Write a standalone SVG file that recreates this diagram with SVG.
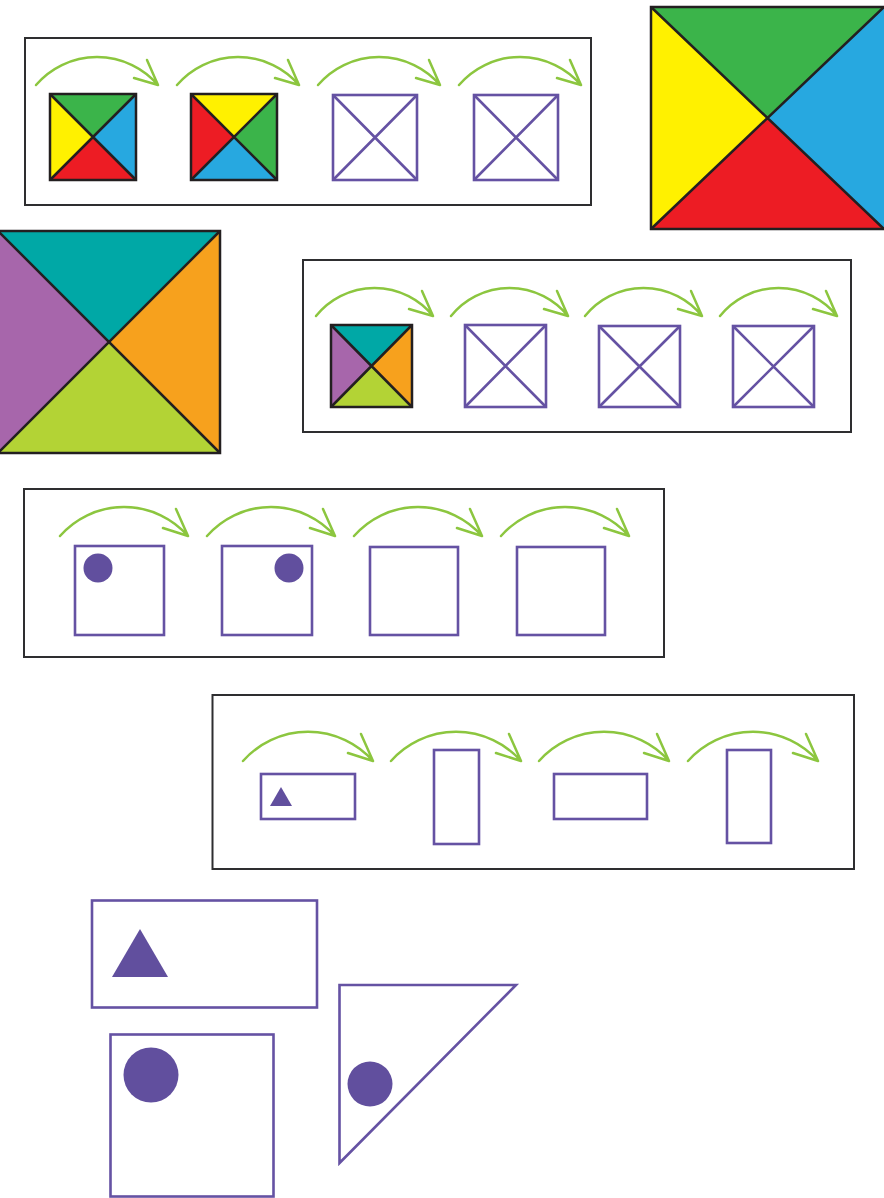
<svg xmlns="http://www.w3.org/2000/svg" width="884" height="1198" viewBox="0 0 884 1198">
<style>
.panel{fill:#fff;stroke:#2e2e30;stroke-width:2}
.arc{fill:none;stroke:#8cc63f;stroke-width:2.5;stroke-linecap:round;stroke-linejoin:round}
.blk{fill:none;stroke:#231f20;stroke-width:2.5}
.pu{fill:none;stroke:#6552a3;stroke-width:2.6}
.pf{fill:#614f9e}
</style>
<rect width="884" height="1198" fill="#fff"/>
<g id="panel1">
<rect class="panel" x="25" y="38" width="566" height="167"/>
<g id="p1sq1">
<polygon points="50,94 136,94 93,137" fill="#3bb44a"/><polygon points="136,94 136,180 93,137" fill="#27a8e0"/><polygon points="136,180 50,180 93,137" fill="#ed1c24"/><polygon points="50,180 50,94 93,137" fill="#fff100"/>
<rect class="blk" x="50" y="94" width="86" height="86"/><path class="blk" d="M50,94L136,180M136,94L50,180"/>
</g>
<g id="p1sq2">
<polygon points="191,94 277,94 234,137" fill="#fff100"/><polygon points="277,94 277,180 234,137" fill="#3bb44a"/><polygon points="277,180 191,180 234,137" fill="#27a8e0"/><polygon points="191,180 191,94 234,137" fill="#ed1c24"/>
<rect class="blk" x="191" y="94" width="86" height="86"/><path class="blk" d="M191,94L277,180M277,94L191,180"/>
</g>
<g id="p1sq3"><rect class="pu" x="333" y="95" width="84" height="85"/><path class="pu" d="M333,95L417,180M417,95L333,180"/></g>
<g id="p1sq4"><rect class="pu" x="474" y="95" width="84" height="85"/><path class="pu" d="M474,95L558,180M558,95L474,180"/></g>
</g>
<g id="bigsq1">
<polygon points="651,7 884,7 768,118" fill="#3bb44a"/><polygon points="884,7 884,229 768,118" fill="#27a8e0"/><polygon points="884,229 651,229 768,118" fill="#ed1c24"/><polygon points="651,229 651,7 768,118" fill="#fff100"/>
<rect class="blk" x="651" y="7" width="240" height="222"/><path class="blk" d="M651,7L884,229M884,7L651,229"/>
</g>
<g id="bigsq2">
<polygon points="-2,231 220,231 109,342" fill="#00a8a6"/><polygon points="220,231 220,453 109,342" fill="#f7a11d"/><polygon points="220,453 -2,453 109,342" fill="#b3d335"/><polygon points="-2,453 -2,231 109,342" fill="#a766ab"/>
<rect class="blk" x="-2" y="231" width="222" height="222"/><path class="blk" d="M-2,231L220,453M220,231L-2,453"/>
</g>
<g id="panel2">
<rect class="panel" x="303" y="260" width="548" height="172"/>
<g id="p2sq1">
<polygon points="331,325 412,325 371.5,366" fill="#00a8a6"/><polygon points="412,325 412,407 371.5,366" fill="#f7a11d"/><polygon points="412,407 331,407 371.5,366" fill="#b3d335"/><polygon points="331,407 331,325 371.5,366" fill="#a766ab"/>
<rect class="blk" x="331" y="325" width="81" height="82"/><path class="blk" d="M331,325L412,407M412,325L331,407"/>
</g>
<g id="p2sq2"><rect class="pu" x="465" y="325" width="81" height="82"/><path class="pu" d="M465,325L546,407M546,325L465,407"/></g>
<g id="p2sq3"><rect class="pu" x="599" y="326" width="81" height="81"/><path class="pu" d="M599,326L680,407M680,326L599,407"/></g>
<g id="p2sq4"><rect class="pu" x="733" y="326" width="81" height="81"/><path class="pu" d="M733,326L814,407M814,326L733,407"/></g>
</g>
<g id="panel3">
<rect class="panel" x="24" y="489" width="640" height="168"/>
<g id="p3sq1"><rect class="pu" x="75" y="546" width="89" height="89"/><circle class="pf" cx="98" cy="568" r="14.5"/></g>
<g id="p3sq2"><rect class="pu" x="222" y="546" width="90" height="89"/><circle class="pf" cx="289" cy="568" r="14.5"/></g>
<g id="p3sq3"><rect class="pu" x="370" y="547" width="88" height="88"/></g>
<g id="p3sq4"><rect class="pu" x="517" y="547" width="88" height="88"/></g>
</g>
<g id="panel4">
<rect class="panel" x="212.5" y="695" width="641.5" height="174"/>
<g id="p4r1"><rect class="pu" x="261" y="774" width="94" height="45"/><polygon class="pf" points="270,806 281,787 292,806"/></g>
<g id="p4r2"><rect class="pu" x="434" y="750" width="45" height="94"/></g>
<g id="p4r3"><rect class="pu" x="554" y="774" width="93" height="45"/></g>
<g id="p4r4"><rect class="pu" x="727" y="750" width="44" height="93"/></g>
</g>
<g id="bigrect"><rect class="pu" x="92" y="900.5" width="225" height="107" stroke-width="3"/><polygon class="pf" points="112,977 140,929 168,977"/></g>
<g id="bigsquare"><rect class="pu" x="110.5" y="1034.5" width="163" height="162" stroke-width="3"/><circle class="pf" cx="151" cy="1075" r="27.5"/></g>
<g id="bigtriangle"><polygon class="pu" points="339.5,985 516,985 339.5,1163" stroke-width="3"/><circle class="pf" cx="370" cy="1084" r="22.5"/></g>
<g id="connectors">
<path class="arc" d="M36,85A80.4,80.4 0 0 1 158,85m-11,-25l11,25l-24,-7"/>
<path class="arc" d="M177,85A80.4,80.4 0 0 1 299,85m-11,-25l11,25l-24,-7"/>
<path class="arc" d="M318,85A80.4,80.4 0 0 1 440,85m-11,-25l11,25l-24,-7"/>
<path class="arc" d="M459,85A80.4,80.4 0 0 1 581,85m-11,-25l11,25l-24,-7"/>
<path class="arc" d="M316,316A75,75 0 0 1 433,316m-11,-25l11,25l-24,-7"/>
<path class="arc" d="M451,316A75,75 0 0 1 568,316m-11,-25l11,25l-24,-7"/>
<path class="arc" d="M585,316A75,75 0 0 1 702,316m-11,-25l11,25l-24,-7"/>
<path class="arc" d="M720,316A75,75 0 0 1 837,316m-11,-25l11,25l-24,-7"/>
<path class="arc" d="M60,536A85,85 0 0 1 188,536m-12,-27l12,27l-25,-8"/>
<path class="arc" d="M207,536A85,85 0 0 1 335,536m-12,-27l12,27l-25,-8"/>
<path class="arc" d="M354,536A85,85 0 0 1 482,536m-12,-27l12,27l-25,-8"/>
<path class="arc" d="M501,536A85,85 0 0 1 629,536m-12,-27l12,27l-25,-8"/>
<path class="arc" d="M243,761A87,87 0 0 1 373,761m-12,-27l12,27l-25,-8"/>
<path class="arc" d="M391,761A87,87 0 0 1 521,761m-12,-27l12,27l-25,-8"/>
<path class="arc" d="M539,761A87,87 0 0 1 669,761m-12,-27l12,27l-25,-8"/>
<path class="arc" d="M688,761A87,87 0 0 1 818,761m-12,-27l12,27l-25,-8"/>
</g>
</svg>
